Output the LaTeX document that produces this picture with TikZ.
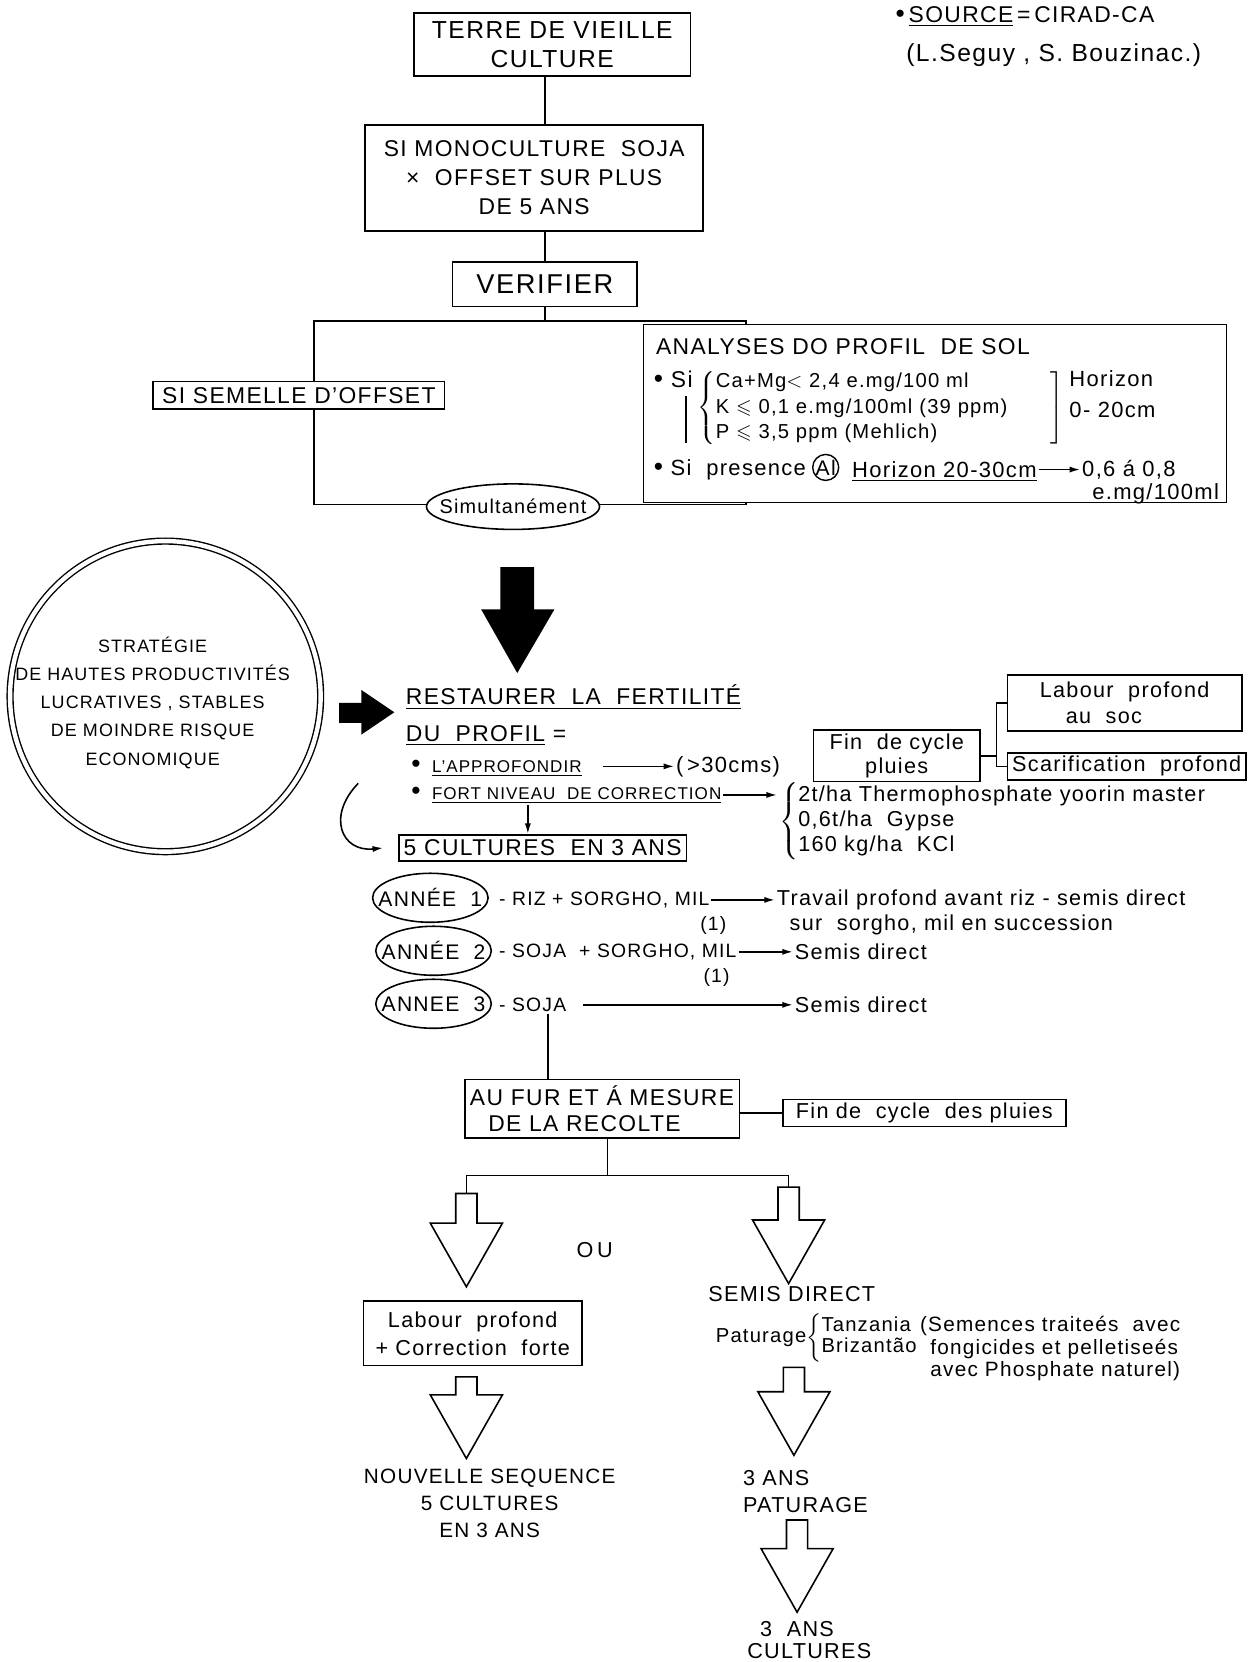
\documentclass[tikz,border=0pt]{standalone}
\usepackage{fontspec}
\usepackage{amsmath,amssymb}
\setmainfont{Liberation Sans}[LetterSpace=6]
\usetikzlibrary{arrows.meta, positioning, shapes.geometric, backgrounds, calc}
\newcommand{\bigdot}{{\fontsize{15}{15}\selectfont\textbullet}}
\tikzset{
  fnt/.style 2 args={font=\fontsize{#1}{#2}\selectfont},
  box/.style={rectangle, draw, line width=0.9pt, fill=white, inner sep=2pt,
    align=center},
  oval/.style={ellipse, draw, line width=0.9pt, fill=white, inner sep=0pt},
  txt/.style={inner sep=1pt, align=left},
  wire/.style={line width=0.9pt},
  arr/.style={wire, -{Latex[length=6pt,width=3.5pt]}},
  pics/hollow/.style={code={
    \draw[line width=0.9pt, fill=white] (-10,0) -- (10,0) -- (10,#1) -- (34,#1)
      -- (0,{#1+60}) -- (-34,#1) -- (-10,#1) -- cycle;
    \coordinate (-top) at (0,0);
    \coordinate (-tip) at (0,{#1+60});
  }},
}

\begin{document}
\begin{tikzpicture}[x=0.0212cm, y=-0.0212cm]
  \useasboundingbox (0,0) rectangle (1180,1568);

  % top chain
  \node[box, fnt={14}{16.8}, minimum width=5.53cm, minimum height=1.27cm]
    (terre) at (521,42) {TERRE\ DE\ VIEILLE\\CULTURE};
  \node[box, fnt={13}{16.5}, minimum width=6.76cm, minimum height=2.12cm]
    (mono) at (504,168) {SI\ MONOCULTURE\ \ SOJA\\×\ \ OFFSET\ SUR\ PLUS\\DE\ 5\ ANS};
  \node[box, fnt={15.5}{18}, minimum width=3.69cm, minimum height=0.89cm]
    (verif) at (514,268) {VERIFIER};
  \coordinate (axis) at (514,0);
  \draw[wire] (terre.south -| axis) -- (mono.north -| axis);
  \draw[wire] (mono.south -| axis) -- (verif.north);

  \node[txt, fnt={13}{15}, anchor=west] (src) at (843,16)
    {\bigdot\,\underline{SOURCE}\,=\,CIRAD-CA};
  \node[txt, fnt={14}{16}, anchor=west] (auth) at (853,52)
    {(L.Seguy , S. Bouzinac.)};

  % verification loop
  \coordinate (fTL) at (296,303);
  \coordinate (fBR) at (704,476);
  \draw[wire] (verif.south) -- (verif.south |- fTL);
  \node[box, fnt={13}{15}, minimum width=5.83cm, minimum height=0.55cm]
    (semelle) at (282,373) {SI SEMELLE D'OFFSET};
  \node[oval, fnt={11.3}{14}, minimum width=3.46cm, minimum height=0.91cm]
    (simul) at (484,478) {\makebox[0pt]{Simultanément}};
  \node[box, minimum width=11.66cm, minimum height=3.56cm] (anal) at (882,390) {};
  \begin{scope}[on background layer]
    \draw[wire] (fTL) rectangle (fBR);
  \end{scope}

  \node[txt, fnt={13}{15}, anchor=west] (antitle) at (617,327)
    {ANALYSES\ DO\ PROFIL\ \ DE\ SOL};
  \node[txt, fnt={13}{15}, anchor=west] (si1) at (615,358) {\bigdot\ Si};
  \node[txt, inner sep=0pt, fnt={11.5}{14.6}, anchor=west] (crit) at (658,385)
    {$\left\{\begin{tabular}{@{}p{6.7cm}@{}}
      Ca+Mg$<$ 2,4 e.mg/100 ml\\
      K $\leqslant$ 0,1 e.mg/100ml (39 ppm)\\
      P $\leqslant$ 3,5 ppm (Mehlich)\end{tabular}\right]$};
  \draw[wire] (647,374) -- (647,418);
  \node[txt, fnt={12.5}{17.4}, anchor=west] (horiz) at (1007,372) {Horizon\\0- 20cm};
  \node[txt, fnt={12.5}{15}, anchor=west] (si2) at (615,443) {\bigdot\ Si\ \ presence};
  \node[circle, draw, line width=0.8pt, inner sep=0pt, minimum size=0.52cm,
    fnt={12}{14}] (al) at (779,441) {Al};
  \node[txt, fnt={12.5}{15}, anchor=west] (hz2) at (802,445) {\underline{Horizon 20-30cm}};
  \node[txt, fnt={12.5}{15}, anchor=west] (val) at (1019,443) {0,6 á 0,8};
  \draw[arr] (hz2.east |- val.west) -- (val.west);
  \node[txt, fnt={12.5}{15}, anchor=east] (unit) at (1152,466) {e.mg/100ml};

  % strategy circle
  \node[circle, draw, double, double distance=2.5pt, line width=0.8pt,
    minimum size=6.21cm] (strat) at (156,657) {};
  \node[fnt={10.2}{16}, align=center] (strattxt) at (144,663)
    {STRATÉGIE\\DE HAUTES PRODUCTIVITÉS\\LUCRATIVES , STABLES\\DE MOINDRE RISQUE\\ECONOMIQUE};
  \fill (320,663) -- (341,663) -- (341,651) -- (372,672) -- (341,693)
    -- (341,682) -- (320,682) -- cycle;
  \fill (472,535) -- (504,535) -- (504,575) -- (523,575) -- (488,635)
    -- (454,575) -- (472,575) -- cycle;

  % restoring fertility
  \node[txt, fnt={13}{15}, anchor=west] (rest) at (381,658)
    {\underline{RESTAURER\ \ LA\ \ FERTILITÉ}};
  \node[txt, fnt={13}{15}, anchor=west] (profil) at (381,694)
    {\underline{DU\ \ PROFIL} =};
  \node[txt, fnt={9.7}{12}, anchor=west] (appro) at (386,725)
    {\bigdot\ \ \underline{L'APPROFONDIR}};
  \node[txt, fnt={12.5}{15}, anchor=west] (cms) at (636,723) {(\,>30cms)};
  \draw[arr, shorten <=0.38cm] (appro.east |- cms.west) -- (cms.west);
  \node[txt, fnt={9.7}{12}, anchor=west] (fort) at (386,750)
    {\bigdot\ \ \underline{FORT NIVEAU\ \ DE CORRECTION}};
  \node[txt, fnt={12.3}{14.3}, anchor=west] (doses) at (733,775)
    {$\left\{\begin{tabular}{@{}l@{}}2t/ha Thermophosphate yoorin master\\
      0,6t/ha\ \ Gypse\\160 kg/ha\ \ KCl\end{tabular}\right.$};
  \draw[arr] (fort.east) -- (fort.east -| doses.west);

  \node[box, fnt={12.3}{14}, minimum width=3.33cm, minimum height=0.98cm]
    (fin) at (846,713) {Fin\ \ de cycle\\pluies};
  \node[box, fnt={12.3}{15}, minimum width=4.69cm, minimum height=1.12cm, align=left]
    (labour) at (1061,663) {Labour\ \ profond\\\hspace*{1.2em}au\ \ soc};
  \node[box, fnt={12.3}{14}, minimum width=4.77cm, minimum height=0.53cm]
    (scar) at (1063,723) {Scarification\ \ profond};
  \coordinate (fj) at (940,713);
  \draw[wire] (fin.east) -- (fj);
  \draw[wire] (labour.west) -| (fj) |- (scar.west);

  \node[box, fnt={13}{15}, minimum width=5.75cm, minimum height=0.53cm]
    (cult5) at (512,800) {5 CULTURES\ \ EN 3 ANS};
  \coordinate (xf) at (498,0);
  \draw[arr] (fort.south -| xf) -- (cult5.north -| xf);
  \coordinate (cvs) at (338,739);
  \draw[arr] (cvs) .. controls (308,770) and (322,804) .. ([xshift=-0.3cm]cult5.west);

  % three years
  \node[oval, fnt={12}{14}, minimum width=2.31cm, minimum height=0.98cm]
    (an1) at (406,847) {\makebox[0pt]{ANNÉE\ \ 1}};
  \node[oval, fnt={12}{14}, minimum width=2.31cm, minimum height=0.98cm]
    (an2) at (409,897) {\makebox[0pt]{ANNÉE\ \ 2}};
  \node[oval, fnt={12}{14}, minimum width=2.31cm, minimum height=0.98cm]
    (an3) at (409,947) {\makebox[0pt]{ANNEE\ \ 3}};

  \node[txt, fnt={11}{13}, anchor=west] (c1) at (469,849) {- RIZ + SORGHO, MIL};
  \node[txt, fnt={12.3}{14}, anchor=west] (w1) at (731,849)
    {Travail profond avant riz - semis direct};
  \draw[arr] (c1.east) -- (w1.west);
  \node[txt, fnt={11}{13}] (n1) at (673,873) {(1)};
  \node[txt, fnt={12.3}{14}, anchor=west] (w1b) at (743,873)
    {sur\ \ sorgho, mil en succession};

  \node[txt, fnt={11}{13}, anchor=west] (c2) at (469,898) {- SOJA\ \ + SORGHO, MIL};
  \node[txt, fnt={12.3}{14}, anchor=west] (w2) at (748,898) {Semis direct};
  \draw[arr] (c2.east) -- (w2.west);
  \node[txt, fnt={11}{13}] (n2) at (676,922) {(1)};

  \node[txt, fnt={11}{13}, anchor=west] (c3) at (469,948) {- SOJA};
  \node[txt, fnt={12.3}{14}, anchor=west] (w3) at (748,948) {Semis direct};
  \draw[arr, shorten <=0.3cm] (c3.east) -- (w3.west);

  % harvest
  \node[box, fnt={13}{15}, minimum width=5.49cm, minimum height=1.17cm, align=left]
    (aufur) at (568,1046) {AU FUR ET Á MESURE\\\hspace*{0.8em}DE LA RECOLTE};
  \node[box, fnt={12.3}{14}, minimum width=5.66cm, minimum height=0.51cm]
    (fin2) at (872,1050) {Fin de\ \ cycle\ \ des pluies};
  \coordinate (xs) at (517,0);
  \draw[wire] (c3.south -| xs) -- (aufur.north -| xs);
  \draw[wire] (aufur.east |- fin2.west) -- (fin2.west);

  \coordinate (br) at (573,1109);
  \draw[wire] (aufur.south -| br) -- (br);
  \pic (hl1) at (440,1126) {hollow=28};
  \pic (hl2) at (440,1299) {hollow=17};
  \pic (hr1) at (744,1120) {hollow=31};
  \pic (hr2) at (749,1290) {hollow=23};
  \pic (hr3) at (752,1434) {hollow=27};
  \draw[wire] (hl1-top) |- (br) -| (hr1-top);

  \node[fnt={12.3}{14}] (ou) at (561,1179) {O\,U};
  \node[box, fnt={12.3}{16}, minimum width=4.37cm, minimum height=1.29cm]
    (lab2) at (446,1258) {Labour\ \ profond\\+ Correction\ \ forte};
  \node[fnt={11.8}{15.3}, align=center] (nseq) at (462,1418)
    {NOUVELLE SEQUENCE\\5 CULTURES\\EN 3 ANS};

  \node[inner sep=0pt, fnt={12.3}{14}] (sd) at (747,1221) {SEMIS DIRECT};
  \node[txt, inner sep=0pt, fnt={11.5}{11.5}, anchor=west] (patur) at (675,1262)
    {Paturage$\left\{\begin{tabular}{@{}l@{}}Tanzania\\Brizantão\end{tabular}\right.$};
  \node[txt, fnt={11.8}{12.8}, anchor=north west] (seed) at (866,1240)
    {(Semences traiteés\ \ avec\\\hspace*{0.5em}fongicides et pelletiseés\\
     \hspace*{0.5em}avec Phosphate naturel)};
  \node[txt, fnt={12.3}{15.6}, anchor=west] (pat3) at (699,1407) {3 ANS\\PATURAGE};
  \node[txt, fnt={12.3}{12.6}, anchor=west] (cul3) at (703,1547)
    {\hspace*{0.6em}3\ \ ANS\\CULTURES};
\end{tikzpicture}
\end{document}
